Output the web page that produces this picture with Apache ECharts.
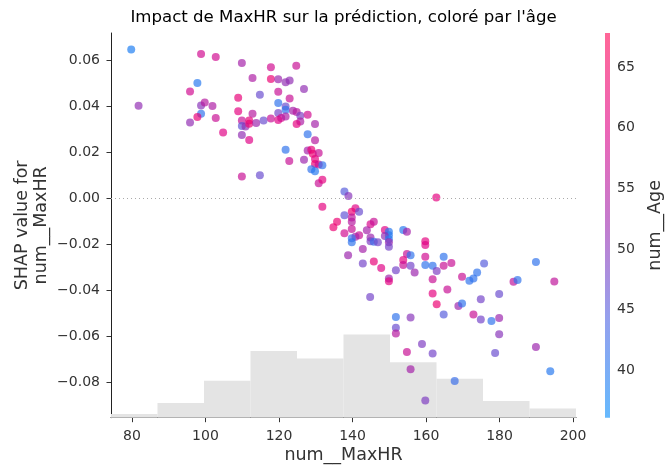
<!DOCTYPE html>
<html><head><meta charset="utf-8">
<script src="https://cdn.jsdelivr.net/npm/echarts@6/dist/echarts.min.js"></script>
<style>html,body{margin:0;padding:0;background:#fff}#c{width:672px;height:476px}</style>
</head><body><div id="c"></div>
<script>
// ---- data ----
const maxHR = [79.8,81.8,98.8,102.8,97.8,95.8,98.8,99.8,101.9,98.8,97.8,95.8,102.8,104.8,109.9,112.8,117.8,117.8,119.8,124.7,121.8,122.9,114.8,119.8,126.8,108.9,108.9,119.8,122.9,112.8,121.8,121.8,119.8,109.9,111.9,109.9,110.9,111.9,113.8,115.8,117.8,119.8,120.6,121.8,123.8,124.8,125.8,125.8,124.8,127.8,129.8,109.9,111.9,127.8,129.8,121.8,122.8,126.8,127.8,128.8,129.2,130.8,129.8,129.8,130.8,131.8,128.8,129.8,130.8,131.8,109.9,114.8,131.8,
137.8,138.9,162.8,140.8,139.8,137.8,141.8,139.8,139.8,135.8,134.8,137.8,139.8,144.9,145.8,143.9,141.8,140.8,139.8,139.8,144.9,144.9,145.8,146.9,142.8,138.8,142.8,145.8,147.8,148.8,149.9,149.9,148.8,149.9,149.9,149.9,151.8,149.9,149.9,144.8,153.8,154.8,154.8,155.8,153.8,153.8,155.8,156.9,151.8,155.8,151.8,151.8,154.8,155.8,158.9,161.8,159.8,159.8,159.8,159.8,159.8,161.8,162.9,161.8,161.8,162.9,164.8,164.8,166.9,165.8,164.8,167.8,168.8,169.8,169.8,172.9,171.8,172.9,173.9,175.8,174.9,174.9,177.8,179.9,179.9,179.9,178.8,183.8,184.9,189.9,189.9,193.8,194.9];
const shapValues = [0.0645,0.0401,0.0626,0.0613,0.0500,0.0463,0.0403,0.0416,0.0400,0.0367,0.0353,0.0329,0.0348,0.0285,0.0587,0.0522,0.0568,0.0517,0.0516,0.0575,0.0503,0.0511,0.0449,0.0462,0.0474,0.0436,0.0377,0.0413,0.0433,0.0367,0.0398,0.0384,0.0370,0.0337,0.0337,0.0314,0.0311,0.0323,0.0326,0.0337,0.0346,0.0340,0.0348,0.0355,0.0380,0.0374,0.0358,0.0333,0.0322,0.0362,0.0322,0.0275,0.0253,0.0278,0.0252,0.0210,0.0162,0.0167,0.0207,0.0210,0.0193,0.0196,0.0170,0.0149,0.0146,0.0143,0.0126,0.0117,0.0065,0.0080,0.0094,0.0100,-0.0037,
0.0029,0.0010,0.0003,-0.0043,-0.0058,-0.0074,-0.0058,-0.0083,-0.0102,-0.0102,-0.0126,-0.0152,-0.0133,-0.0113,-0.0102,-0.0139,-0.0160,-0.0167,-0.0174,-0.0191,-0.0170,-0.0186,-0.0189,-0.0191,-0.0220,-0.0247,-0.0283,-0.0274,-0.0303,-0.0138,-0.0145,-0.0160,-0.0164,-0.0178,-0.0191,-0.0210,-0.0312,-0.0348,-0.0360,-0.0428,-0.0138,-0.0145,-0.0242,-0.0247,-0.0268,-0.0290,-0.0293,-0.0322,-0.0515,-0.0517,-0.0562,-0.0587,-0.0667,-0.0742,-0.0632,-0.0674,-0.0877,-0.0186,-0.0203,-0.0254,-0.0290,-0.0293,-0.0316,-0.0351,-0.0413,-0.0460,-0.0254,-0.0293,-0.0281,-0.0396,-0.0504,-0.0793,-0.0467,-0.0457,-0.0341,-0.0504,-0.0358,-0.0348,-0.0322,-0.0283,-0.0438,-0.0526,-0.0533,-0.0415,-0.0519,-0.0590,-0.0671,-0.0362,-0.0355,-0.0277,-0.0645,-0.0751,-0.0361];
const ages = [39,51,58,58,40,58,50,55,54,41,62,51,57,60,53,54,58,63,52,57,51,51,47,57,51,62,61,41,57,55,47,41,48,57,62,46,51,63,52,47,57,60,58,54,53,55,49,54,61,58,53,51,60,41,55,41,57,52,53,62,63,57,61,63,57,41,41,40,57,61,57,47,61,
45,50,61,60,63,46,47,56,55,63,63,58,57,59,57,53,57,53,42,41,52,49,42,48,53,52,48,62,60,60,40,40,51,40,52,48,48,52,61,48,40,53,57,41,61,57,48,52,41,50,47,55,57,53,49,48,49,61,60,58,41,41,49,57,61,63,41,57,57,57,45,42,52,41,57,57,41,41,41,45,48,48,41,47,52,50,47,56,41,41,52,40,56];
const histEdges = [74.3,86.95,99.6,112.25,124.9,137.55,150.2,162.85,175.5,188.15,200.8];
const histCounts = [2,8,20,36,32,45,30,21,9,5];
const xTicks = [80,100,120,140,160,180,200];
const yTicks = [-0.08,-0.06,-0.04,-0.02,0,0.02,0.04,0.06];
const ageTicks = [40,45,50,55,60,65];
const ageRange = [36.1, 67.8];
const xRange = [74.3, 200.8];
const yRange = [-0.0952, 0.0717];

// ---- styles ----
const FONT = 'DejaVu Sans';
const cmap = ['#008afb', '#4b63e3', '#9b24ad', '#e00086', '#ff0052'];
function blend(hex, a) {
  const n = parseInt(hex.slice(1), 16);
  const c = [(n >> 16) & 255, (n >> 8) & 255, n & 255].map(v => Math.round(255 - a * (255 - v)));
  return 'rgb(' + c.join(',') + ')';
}
const barStops = cmap.map((c, i) => ({ offset: i / (cmap.length - 1), color: blend(c, 0.6) }));

const scatterData = maxHR.map((x, i) => [x, shapValues[i], ages[i]]);
const histData = histCounts.map((c, i) => [histEdges[i], histEdges[i + 1], c]);
const histTotal = histCounts.reduce((a, b) => a + b, 0);

const G = { left: 111, right: 96, top: 33, bottom: 58.3 };
const plotCenterX = G.left + (672 - G.left - G.right) / 2;

const fmtY = v => (v < 0 ? '\u2212' : '') + Math.abs(v).toFixed(2);

const chart = echarts.init(document.getElementById('c'), null, { renderer: 'canvas' });
chart.setOption({
  animation: false,
  backgroundColor: '#fff',
  textStyle: { fontFamily: FONT },
  graphic: [{
    type: 'text', x: plotCenterX, y: 18,
    style: { text: "Impact de MaxHR sur la prédiction, coloré par l'âge", font: '16.6px "DejaVu Sans"',
      fill: '#000', textAlign: 'center', textVerticalAlign: 'middle' }
  }],
  grid: [
    { left: G.left, right: G.right, top: G.top, bottom: G.bottom, containLabel: false },
    { left: 605, width: 5, top: G.top, bottom: G.bottom, containLabel: false }
  ],
  xAxis: [{
    type: 'value', gridIndex: 0, min: xRange[0], max: xRange[1],
    name: 'num__MaxHR', nameLocation: 'middle', nameGap: 29, nameMoveOverlap: false,
    nameTextStyle: { fontSize: 17.5, color: '#333', fontFamily: FONT },
    axisLine: { show: true, onZero: false, lineStyle: { color: '#222', width: 1 } },
    axisTick: { show: true, length: 4.5, inside: false, customValues: xTicks, lineStyle: { color: '#333' } },
    axisLabel: { customValues: xTicks, fontSize: 14, color: '#333', margin: 12, fontFamily: FONT },
    splitLine: { show: false }
  }, {
    type: 'value', gridIndex: 1, min: 0, max: 1, show: false
  }],
  yAxis: [{
    type: 'value', gridIndex: 0, min: yRange[0], max: yRange[1],
    name: 'SHAP value for\nnum__MaxHR', nameLocation: 'middle', nameGap: 60, nameRotate: 90, nameMoveOverlap: false,
    nameTextStyle: { fontSize: 17.5, color: '#333', lineHeight: 19, fontFamily: FONT },
    axisLine: { show: true, onZero: false, lineStyle: { color: '#222', width: 1 } },
    axisTick: { show: true, length: 4.5, inside: false, customValues: yTicks, lineStyle: { color: '#333' } },
    axisLabel: { customValues: yTicks, formatter: fmtY, fontSize: 14, color: '#333', margin: 11, fontFamily: FONT },
    splitLine: { show: false }
  }, {
    type: 'value', gridIndex: 0, min: 0, max: histTotal, show: false
  }, {
    type: 'value', gridIndex: 1, min: ageRange[0], max: ageRange[1], position: 'right',
    name: 'num__Age', nameLocation: 'middle', nameGap: 36, nameRotate: 90,
    nameTextStyle: { fontSize: 17.5, color: '#333', fontFamily: FONT },
    axisLine: { show: false },
    axisTick: { show: true, length: 4, inside: false, customValues: ageTicks, lineStyle: { color: '#333' } },
    axisLabel: { customValues: ageTicks, fontSize: 14, color: '#333', margin: 7, fontFamily: FONT },
    splitLine: { show: false }
  }],
  visualMap: [{
    type: 'continuous', show: false, dimension: 2, seriesIndex: 1,
    min: ageRange[0], max: ageRange[1], inRange: { color: cmap }
  }],
  series: [{
    type: 'custom', xAxisIndex: 0, yAxisIndex: 1, z: 1, silent: true,
    data: histData,
    renderItem: (params, api) => {
      const a = api.coord([api.value(0), api.value(2)]);
      const b = api.coord([api.value(1), 0]);
      return { type: 'rect', shape: { x: a[0], y: a[1], width: b[0] - a[0], height: b[1] - a[1] },
        style: { fill: '#e4e4e4' } };
    }
  }, {
    type: 'scatter', xAxisIndex: 0, yAxisIndex: 0, z: 3,
    symbolSize: 8, data: scatterData,
    itemStyle: { opacity: 0.68 },
    markLine: {
      silent: true, symbol: ['none', 'none'], label: { show: false },
      lineStyle: { color: '#aaa', width: 1, type: [1, 3] },
      data: [{ yAxis: 0 }]
    }
  }, {
    type: 'custom', xAxisIndex: 1, yAxisIndex: 2, silent: true,
    data: [[0, ageRange[0], 1, ageRange[1]]],
    renderItem: (params, api) => {
      const p0 = api.coord([api.value(0), api.value(1)]);
      const p1 = api.coord([api.value(2), api.value(3)]);
      return { type: 'rect', shape: { x: p0[0], y: p1[1], width: p1[0] - p0[0], height: p0[1] - p1[1] },
        style: { fill: new echarts.graphic.LinearGradient(0, 1, 0, 0, barStops) } };
    }
  }]
});
</script></body></html>
